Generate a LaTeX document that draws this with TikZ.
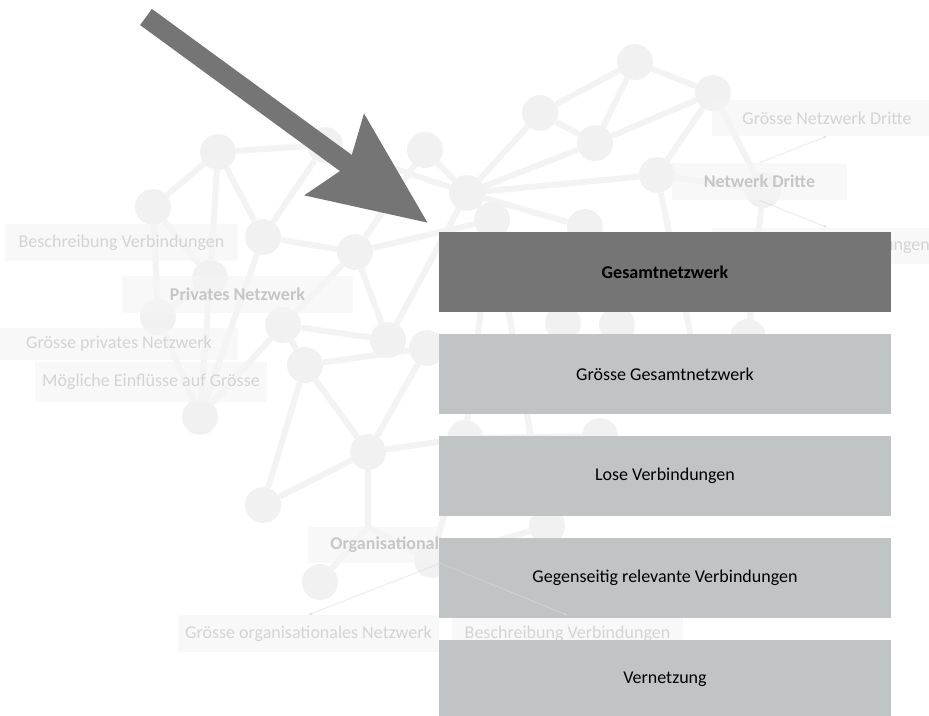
\documentclass[tikz,border=0pt]{standalone}
\usepackage{fontspec}
\setmainfont{Carlito}
\usepackage{tikz}
\usetikzlibrary{positioning,arrows.meta}
\definecolor{dunkel}{HTML}{757575}
\definecolor{hell}{HTML}{C1C4C5}
\definecolor{knoten}{HTML}{F1F1F1}
\definecolor{kante}{HTML}{F3F3F3}
\definecolor{schrift}{HTML}{D4D4D4}
\definecolor{fett}{HTML}{C6C6C6}
\tikzset{box/.style={fill=hell, minimum width=452pt, minimum height=80pt, inner sep=0pt, font=\fontsize{18}{21}\selectfont},
  kn/.style={circle, minimum size=36pt, inner sep=0pt},
  kt/.style={draw=kante, line width=6pt},
  lbl/.style={fill=black!4, fill opacity=0.75, text opacity=1, text=schrift, minimum height=37pt, inner sep=0pt, font=\fontsize{18}{21}\selectfont},
  lblfett/.style={lbl, text=fett, font=\fontsize{18}{21}\selectfont\bfseries},
  pfeil/.style={draw=black!15, draw opacity=0.6, line width=0.8pt, -{Stealth[length=4pt, width=3pt]}},
  grosspfeil/.style={draw=dunkel, line width=20pt, -{Stealth[length=114pt, width=97pt, inset=16pt]}}}

\begin{document}
\begin{tikzpicture}[x=1pt, y=-1pt, node distance=21.5pt]
	\useasboundingbox (0,0) rectangle (929,715);
	
	\node[kn] (k1) at (218,152) {};
	\node[kn] (k2) at (153,207) {};
	\node[kn] (k3) at (263,237) {};
	\node[kn] (k4) at (325,145) {};
	\node[kn] (k5) at (355,252) {};
	\node[kn] (k6) at (210,278) {};
	\node[kn] (k7) at (425,150) {};
	\node[kn] (k8) at (467,193) {};
	\node[kn] (k9) at (492,220) {};
	\node[kn] (k10) at (158,317) {};
	\node[kn] (k11) at (200,417) {};
	\node[kn] (k12) at (283,325) {};
	\node[kn] (k13) at (305,365) {};
	\node[kn] (k14) at (388,340) {};
	\node[kn] (k15) at (427,348) {};
	\node[kn] (k16) at (368,452) {};
	\node[kn] (k17) at (263,505) {};
	\node[kn] (k18) at (320,582) {};
	\node[kn] (k19) at (432,560) {};
	\node[kn] (k20) at (540,113) {};
	\node[kn] (k21) at (595,143) {};
	\node[kn] (k22) at (635,62) {};
	\node[kn] (k23) at (713,93) {};
	\node[kn] (k24) at (657,175) {};
	\node[kn] (k25) at (763,190) {};
	\node[kn] (k26) at (585,227) {};
	\node[kn] (k27) at (563,323) {};
	\node[kn] (k28) at (617,325) {};
	\node[kn] (k29) at (748,337) {};
	\node[kn] (k30) at (465,438) {};
	\node[kn] (k31) at (600,436) {};
	\node[kn] (k32) at (547,526) {};
	\node[kn] (k33) at (700,380) {};
	\coordinate (j1) at (368,527);
	
	\draw[kt] (k1) -- (k2) (k1) -- (k3) (k1) -- (k4) (k1) -- (k6);
	\draw[kt] (k2) -- (k6) (k2) -- (k10) (k6) -- (k10) (k6) -- (k11) (k10) -- (k11);
	\draw[kt] (k3) -- (k4) (k3) -- (k5) (k3) -- (k11) (k4) -- (k8) (k7) -- (k8);
	\draw[kt] (k5) -- (k7) (k5) -- (k9) (k5) -- (k12) (k5) -- (k14);
	\draw[kt] (k11) -- (k12) (k12) -- (k13) (k12) -- (k14) (k14) -- (k8);
	\draw[kt] (k13) -- (k15) (k13) -- (k16) (k13) -- (k17) (k15) -- (k16);
	\draw[kt] (k16) -- (k17) (k16) -- (j1) (k16) -- (k30) (j1) -- (k18) (j1) -- (k19) (k19) -- (k30) (k19) -- (k32);
	\draw[kt] (k8) -- (k9) (k8) -- (k20) (k8) -- (k21) (k8) -- (k24) (k8) -- (k26);
	\draw[kt] (k20) -- (k21) (k20) -- (k22) (k21) -- (k22) (k21) -- (k23) (k22) -- (k23);
	\draw[kt] (k23) -- (k24) (k23) -- (k25) (k24) -- (k25) (k24) -- (k33) (k25) -- (k29);
	\draw[kt] (k26) -- (k27) (k26) -- (k28) (k9) -- (k30) (k9) -- (k32);
	\draw[kt] (k28) -- (k33) (k33) -- (k29) (k30) -- (k31) (k31) -- (k32);
	\foreach \k in {1,...,33}
		\fill[knoten] (k\k) circle (18pt);
	
	\node[lbl, minimum width=233pt] (bvl) at (121.5,242.5) {Beschreibung Verbindungen};
	\node[lblfett, minimum width=231pt] (priv) at (237.5,294.5) {Privates Netzwerk};
	\node[lbl, minimum width=238pt, minimum height=32pt] (gpn) at (119,344) {Grösse privates Netzwerk};
	\node[lbl, minimum width=232pt, minimum height=40pt] (mein) at (151,382) {Mögliche Einflüsse auf Grösse};
	\node[lblfett, minimum width=175pt] (ndr) at (759.5,181.5) {Netwerk Dritte};
	\node[lbl, minimum width=230pt, minimum height=36pt] (gnd) at (827,118) {Grösse Netzwerk Dritte};
	\node[lbl, minimum width=230pt, minimum height=36pt] (bvr) at (827,245.5) {Beschreibung Verbindungen};
	\node[lblfett, minimum width=132pt, text width=130pt, align=right, minimum height=36pt] (org) at (374,545) {Organisational};
	\node[lbl, minimum width=261pt] (gon) at (308.5,633.5) {Grösse organisationales Netzwerk};
	\node[lbl, minimum width=231pt] (bvb) at (567.5,634) {Beschreibung Verbindungen};
	
	\node[box, fill=dunkel, font=\fontsize{18}{21}\selectfont\bfseries] (gesamt) at (665,272) {Gesamtnetzwerk};
	\node[box] (groesse) [below=of gesamt] {Grösse Gesamtnetzwerk};
	\node[box] (lose) [below=of groesse] {Lose Verbindungen};
	\node[box] (gegen) [below=of lose] {Gegenseitig relevante Verbindungen};
	\node[box] (vernetz) [below=of gegen] {Vernetzung};
	
	\draw[pfeil] (ndr.north) -- (gnd.south);
	\draw[pfeil] (ndr.south) -- (bvr.north);
	\draw[pfeil] (org.south east) -- (gon.north);
	\draw[pfeil] (org.south east) -- (bvb.north);
	
	\coordinate (pfeilstart) at (146,17);
	\coordinate (pfeilspitze) at (428,223);
	\draw[grosspfeil] (pfeilstart) -- (pfeilspitze);
\end{tikzpicture}
\end{document}
